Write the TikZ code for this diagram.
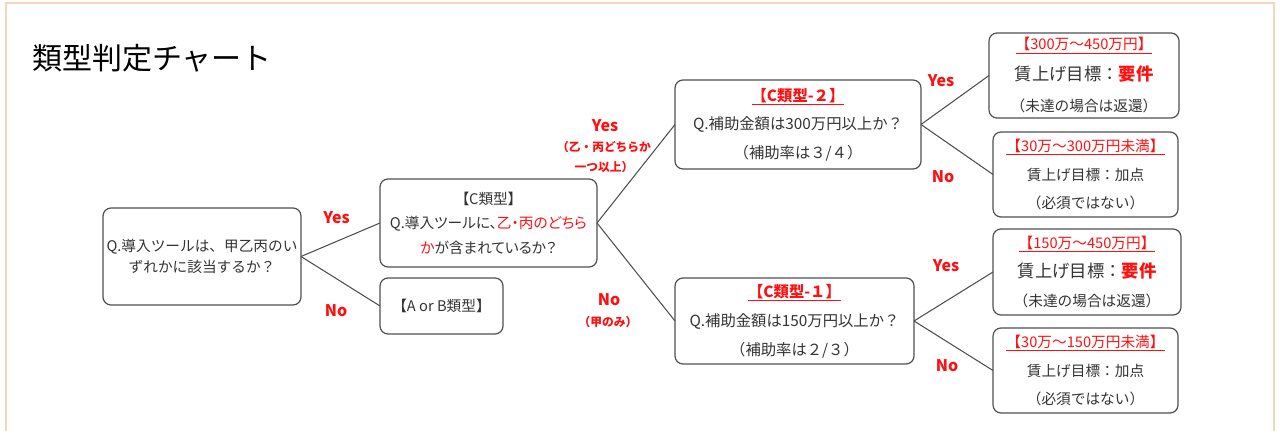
\documentclass[tikz,border=0pt]{standalone}
\usepackage{fontspec}
\setmainfont{Noto Sans CJK JP}
\newfontfamily\paltfont[RawFeature=+palt]{Noto Sans CJK JP}
\definecolor{txt}{HTML}{333333}
\definecolor{edge}{HTML}{505050}
\definecolor{rd}{HTML}{FF1010}
\definecolor{framec}{HTML}{F8D6BE}
\begin{document}
\begin{tikzpicture}[x=0.75pt,y=-0.75pt,
  box/.style={draw=edge, line width=0.9pt, rounded corners=6pt, inner sep=0pt, outer sep=0pt, align=center, text=txt},
  conn/.style={draw=edge, line width=0.8pt},
  lab/.style={text=rd, font=\fontsize{12}{14}\selectfont\bfseries, inner sep=0pt},
  sublab/.style={text=rd, font=\fontsize{8.8}{15}\selectfont\bfseries, inner sep=0pt, align=center},
]
\useasboundingbox (0,0) rectangle (1280,431);
\draw[framec, line width=1.5pt] (5.5,431) -- (5.5,3.5) -- (1274,3.5) -- (1274,431);

\node[anchor=west, inner sep=0pt, font=\fontsize{22.5}{26}\selectfont, text=black] (title) at (32,58) {類型判定チャート};

\node[box, minimum width=148.5pt, minimum height=72.75pt, font=\fontsize{11}{16.1}\selectfont] (q1) at (202,256.5)
  {Q.導入ツールは、甲乙丙のい\\ずれかに該当するか？};
\node[box, minimum width=162.75pt, minimum height=66pt, font=\paltfont\fontsize{11}{18.4}\selectfont] (c) at (488.5,223)
  {【C類型】\\Q.導入ツールに、\textcolor{rd}{乙・丙のどちら}\\\textcolor{rd}{か}が含まれているか？};
\node[box, minimum width=92.25pt, minimum height=42pt, font=\fontsize{11}{16}\selectfont] (ab) at (441.5,306)
  {【A or B類型】};
\node[box, minimum width=184.5pt, minimum height=66.75pt, font=\fontsize{11.5}{21.4}\selectfont] (c2) at (798,124.5)
  {\textcolor{rd}{\bfseries\underline{【C類型-２】}}\\Q.補助金額は300万円以上か？\\（補助率は３/４）};
\node[box, minimum width=179.25pt, minimum height=64.5pt, font=\fontsize{11.5}{21.75}\selectfont] (c1) at (794.5,321)
  {\textcolor{rd}{\bfseries\underline{【C類型-１】}}\\Q.補助金額は150万円以上か？\\（補助率は２/３）};
\node[box, minimum width=142.5pt, minimum height=63.75pt, font=\fontsize{11}{23.25}\selectfont] (r1) at (1084,75.5)
  {\textcolor{rd}{\underline{【300万～450万円】}}\\{\fontsize{13}{23.25}\selectfont 賃上げ目標：\textcolor{rd}{\bfseries 要件}}\\（未達の場合は返還）};
\node[box, minimum width=138.75pt, minimum height=63.75pt, font=\fontsize{11}{21.4}\selectfont] (r2) at (1085.5,174.5)
  {\textcolor{rd}{\underline{【30万～300万円未満】}}\\賃上げ目標：加点\\（必須ではない）};
\node[box, minimum width=141pt, minimum height=64.5pt, font=\fontsize{11}{22}\selectfont] (r3) at (1087,272)
  {\textcolor{rd}{\underline{【150万～450万円】}}\\{\fontsize{13}{22}\selectfont 賃上げ目標：\textcolor{rd}{\bfseries 要件}}\\（未達の場合は返還）};
\node[box, minimum width=138.75pt, minimum height=63.75pt, font=\fontsize{11}{21.4}\selectfont] (r4) at (1085.5,370.5)
  {\textcolor{rd}{\underline{【30万～150万円未満】}}\\賃上げ目標：加点\\（必須ではない）};

\draw[conn] (q1.east) -- (c.west);
\draw[conn] (q1.east) -- (ab.west);
\draw[conn] (c.east) -- (c2.west);
\draw[conn] (c.east) -- (c1.west);
\draw[conn] (c2.east) -- (r1.west);
\draw[conn] (c2.east) -- (r2.west);
\draw[conn] (c1.east) -- (r3.west);
\draw[conn] (c1.east) -- (r4.west);

\node[lab] (y1) at (336.5,218) {Yes};
\node[lab] (n1) at (336,311) {No};
\node[lab] (y2) at (605,126) {Yes};
\node[sublab] (y2s) at (604,157) {（乙・丙どちらか\\一つ以上）};
\node[lab] (n2) at (609,300) {No};
\node[sublab] (n2s) at (608,322) {（甲のみ）};
\node[lab] (y3) at (941,81) {Yes};
\node[lab] (n3) at (943,177) {No};
\node[lab] (y4) at (946,266) {Yes};
\node[lab] (n4) at (947,366) {No};
\end{tikzpicture}
\end{document}
